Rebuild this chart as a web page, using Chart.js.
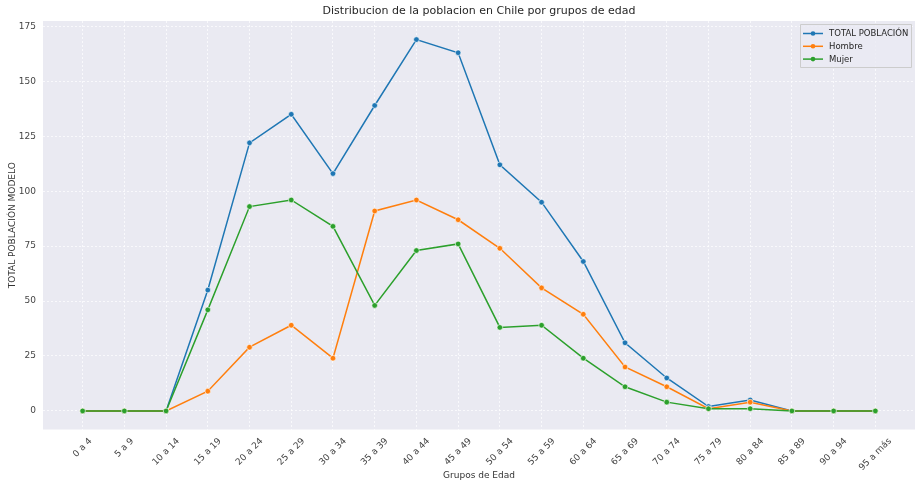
<!DOCTYPE html>
<html>
<head>
<meta charset="utf-8">
<script src="https://cdn.jsdelivr.net/npm/chart.js@4.4.1/dist/chart.umd.min.js"></script>
<style>
  html, body { margin: 0; padding: 0; background: #fff; overflow: hidden; }
  #wrap { width: 915px; height: 484px; }
</style>
</head>
<body>
<div id="wrap"><canvas id="chart"></canvas></div>
<script>
// data
var grupos = ['0 a 4', '5 a 9', '10 a 14', '15 a 19', '20 a 24', '25 a 29', '30 a 34', '35 a 39',
  '40 a 44', '45 a 49', '50 a 54', '55 a 59', '60 a 64', '65 a 69', '70 a 74', '75 a 79',
  '80 a 84', '85 a 89', '90 a 94', '95 a más'];
var total = [0, 0, 0, 55, 122, 135, 108, 139, 169, 163, 112, 95, 68, 31, 15, 2, 5, 0, 0, 0];
var hombre = [0, 0, 0, 9, 29, 39, 24, 91, 96, 87, 74, 56, 44, 20, 11, 1, 4, 0, 0, 0];
var mujer = [0, 0, 0, 46, 93, 96, 84, 48, 73, 76, 38, 39, 24, 11, 4, 1, 1, 0, 0, 0];
var yTicks = [0, 25, 50, 75, 100, 125, 150, 175];

var series = [
  { label: 'TOTAL POBLACIÓN', values: total, color: '#1f77b4', order: 3 },
  { label: 'Hombre', values: hombre, color: '#ff7f0e', order: 2 },
  { label: 'Mujer', values: mujer, color: '#2ca02c', order: 1 }
];

var font = 'DejaVu Sans';

function toPoints(arr) {
  return arr.map(function (v, i) { return { x: i, y: v }; });
}

// plot background, title, rotated x labels (centred like matplotlib) and legend box
var decor = {
  id: 'decor',
  beforeDraw: function (chart) {
    var c = chart.ctx, a = chart.chartArea;
    c.save();
    c.fillStyle = '#eaeaf2';
    c.fillRect(a.left, a.top, a.right - a.left, a.bottom - a.top);
    c.restore();
  },
  afterDraw: function (chart) {
    var c = chart.ctx, a = chart.chartArea, xs = chart.scales.x;
    c.save();
    c.fillStyle = '#262626';
    c.font = '11px "' + font + '"';
    c.textAlign = 'center';
    c.textBaseline = 'middle';
    c.fillText('Distribucion de la poblacion en Chile por grupos de edad', (a.left + a.right) / 2, 11);

    // x tick labels
    c.font = '9px "' + font + '"';
    c.fillStyle = '#444';
    var h = 9;
    grupos.forEach(function (g, i) {
      var px = xs.getPixelForValue(i);
      var w = c.measureText(g).width;
      var box = (w + h) * Math.SQRT1_2;
      var cy = a.bottom + 7 + box / 2;
      c.save();
      c.translate(px, cy);
      c.rotate(-Math.PI / 4);
      c.fillText(g, 0, 0);
      c.restore();
    });

    // legend
    var bx = 800, by = 24, bw = 111, bh = 43;
    c.fillStyle = 'rgba(234,234,242,0.8)';
    c.strokeStyle = '#cccccc';
    c.lineWidth = 1;
    c.beginPath();
    c.rect(bx + 0.5, by + 0.5, bw, bh);
    c.fill();
    c.stroke();
    c.font = '8.5px "' + font + '"';
    c.textAlign = 'left';
    series.forEach(function (s, i) {
      var y = by + 9.5 + i * 12.8;
      c.strokeStyle = s.color;
      c.lineWidth = 1.5;
      c.beginPath();
      c.moveTo(803, y);
      c.lineTo(823, y);
      c.stroke();
      c.fillStyle = s.color;
      c.beginPath();
      c.arc(813, y, 2.3, 0, Math.PI * 2);
      c.fill();
      c.fillStyle = '#262626';
      c.fillText(s.label, 829, y + 0.5);
    });
    c.restore();
  }
};

new Chart(document.getElementById('chart'), {
  type: 'line',
  data: {
    datasets: series.map(function (s) {
      return {
        label: s.label,
        data: toPoints(s.values),
        borderColor: s.color,
        backgroundColor: s.color,
        borderWidth: 1.5,
        pointRadius: 2.8,
        pointBackgroundColor: s.color,
        pointBorderColor: '#ffffff',
        pointBorderWidth: 0.6,
        tension: 0,
        order: s.order
      };
    })
  },
  options: {
    responsive: true,
    maintainAspectRatio: false,
    animation: false,
    layout: { autoPadding: false, padding: { top: 21, left: 0, right: 0, bottom: 0 } },
    plugins: {
      legend: { display: false },
      title: { display: false },
      tooltip: { enabled: false }
    },
    scales: {
      x: {
        type: 'linear',
        min: -0.95,
        max: 19.95,
        afterBuildTicks: function (scale) {
          scale.ticks = grupos.map(function (g, i) { return { value: i }; });
        },
        afterFit: function (scale) {
          scale.height = 54.5;
          scale.paddingLeft = 0;
          scale.paddingRight = 0;
        },
        ticks: {
          display: false,
          autoSkip: false
        },
        grid: { color: 'rgba(255,255,255,0.9)', drawTicks: false, lineWidth: 0.8 },
        border: { display: false, dash: [2, 2] },
        title: {
          display: true,
          text: 'Grupos de Edad',
          color: '#333',
          font: { family: font, size: 9 },
          padding: { top: 0, bottom: 3 }
        }
      },
      y: {
        min: -8.45,
        max: 177.45,
        afterBuildTicks: function (scale) {
          scale.ticks = yTicks.map(function (v) { return { value: v }; });
        },
        afterFit: function (scale) {
          scale.width = 43;
          scale.paddingTop = 0;
          scale.paddingBottom = 0;
        },
        ticks: {
          padding: 7,
          color: '#444',
          font: { family: font, size: 9 }
        },
        grid: { color: 'rgba(255,255,255,0.9)', drawTicks: false, lineWidth: 0.8 },
        border: { display: false, dash: [2, 2] },
        title: {
          display: true,
          text: 'TOTAL POBLACIÓN MODELO',
          color: '#333',
          font: { family: font, size: 9 },
          padding: { top: 7, bottom: 4 }
        }
      }
    }
  },
  plugins: [decor]
});
</script>
</body>
</html>
